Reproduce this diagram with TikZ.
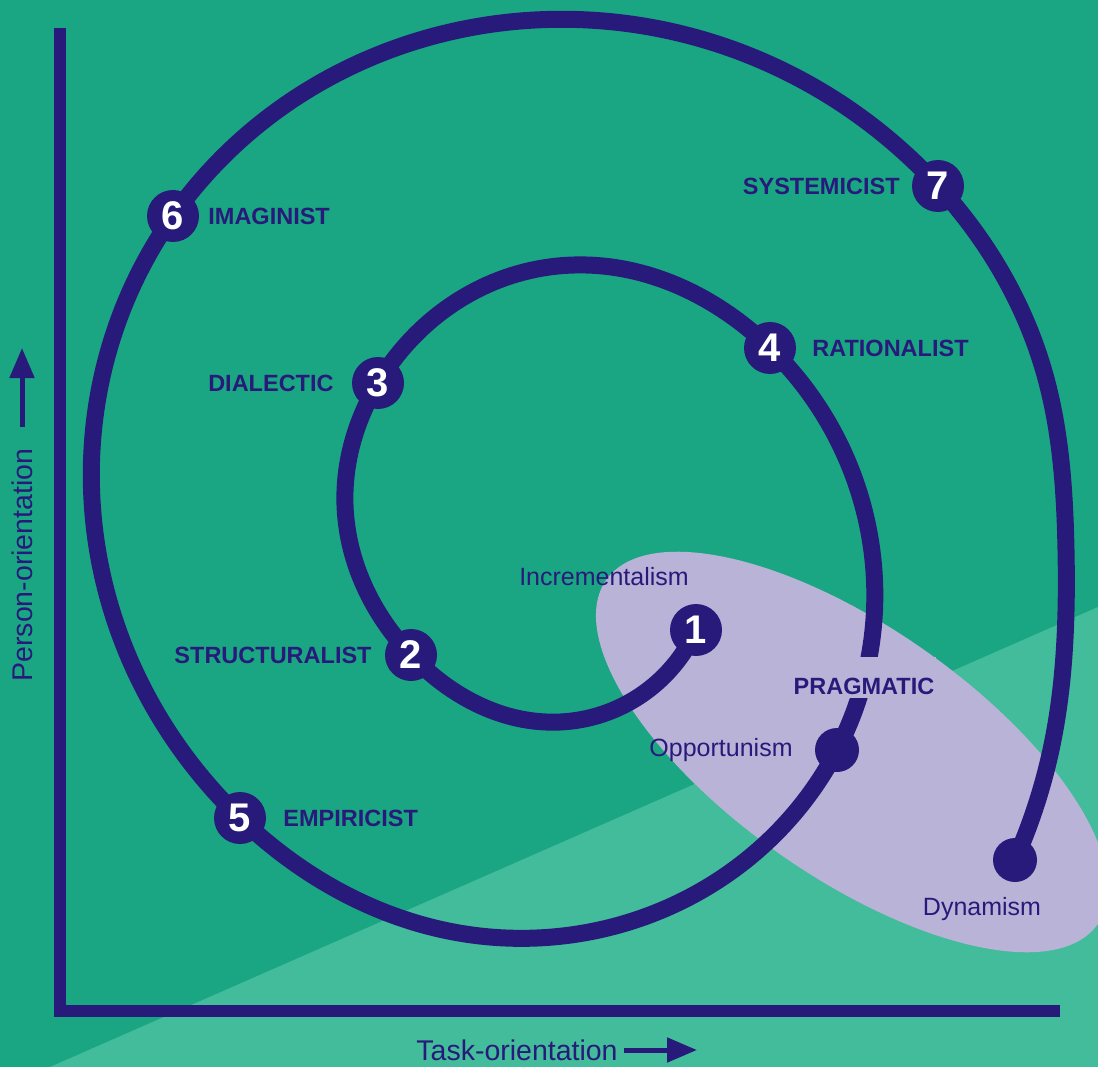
\documentclass[tikz,border=0pt]{standalone}
\usepackage{fontspec}
\setmainfont{Liberation Sans}
\usetikzlibrary{arrows.meta,positioning,hobby}
\definecolor{sea}{RGB}{26,166,131}
\definecolor{seapale}{RGB}{66,188,154}
\definecolor{indigo}{RGB}{40,26,122}
\definecolor{lilac}{RGB}{186,179,216}
\tikzset{
  stage/.style     = {circle, fill=indigo, text=white, inner sep=0pt,
                      minimum size=52pt, font=\bfseries\fontsize{40}{40}\selectfont},
  bigdot/.style    = {circle, fill=indigo, inner sep=0pt, minimum size=44pt},
  typelabel/.style = {text=indigo, inner sep=0pt,
                      font=\bfseries\fontsize{23.5}{24}\selectfont},
  remark/.style    = {text=indigo, inner sep=0pt, font=\fontsize{25}{26}\selectfont},
  axislabel/.style = {text=indigo, inner sep=0pt, font=\fontsize{28.5}{29}\selectfont},
  axisline/.style  = {draw=indigo, line width=12pt, line join=miter},
  spiral/.style    = {draw=indigo, line width=17pt},
  pointer/.style   = {-{Triangle[length=30pt,width=24pt]}, draw=indigo, line width=5pt},
}

\begin{document}
\begin{tikzpicture}[x=1pt, y=-1pt]
% backdrop
\fill[sea] (0,0) rectangle (1098,1067);
\fill[seapale] (50,1067) -- (1098,607) -- (1098,1067) -- cycle;
\useasboundingbox (0,0) rectangle (1098,1067);

% pragmatic zone
\fill[lilac, rotate around={-35:(852,752)}] (852,752) ellipse [x radius=300pt, y radius=125pt];

% axes
\coordinate (origin) at (60,1011);
\draw[axisline] (60,28) -- (origin) -- (1060,1011);

% stations on the spiral
\coordinate (p1) at (696,630);
\coordinate (p2) at (411,655);
\coordinate (p3) at (378,383);
\coordinate (p4) at (770,348);
\coordinate (pp) at (837,750);
\coordinate (p5) at (240,818);
\coordinate (p6) at (173,216);
\coordinate (p7) at (938,186);
\coordinate (pd) at (1015,860);

\draw[spiral, use Hobby shortcut] (p1) .. (560,722) .. (p2) .. (345,505) .. (p3)
  .. (558,266) .. (p4) .. (873,560) .. (pp) .. (490,937) .. (p5)
  .. (92,500) .. (p6) .. (535,20) .. (p7) .. (1045,375) .. (1066,550)
  .. (1052,745) .. (pd);

\node[stage] (s1) at (p1) {1};
\node[stage] (s2) at (p2) {2};
\node[stage] (s3) at (p3) {3};
\node[stage] (s4) at (p4) {4};
\node[stage] (s5) at (p5) {5};
\node[stage] (s6) at (p6) {6};
\node[stage] (s7) at (p7) {7};
\node[bigdot] (prag) at (pp) {};
\node[bigdot] (dyn) at (pd) {};

% style names
\node[typelabel, right=9pt of s6] (l6) {IMAGINIST};
\node[typelabel, left=18pt of s3] (l3) {DIALECTIC};
\node[typelabel, left=12pt of s7] (l7) {SYSTEMICIST};
\node[typelabel, right=16pt of s4] (l4) {RATIONALIST};
\node[typelabel, left=13pt of s2] (l2) {STRUCTURALIST};
\node[typelabel, right=17pt of s5] (l5) {EMPIRICIST};
\node[typelabel, fill=lilac, inner xsep=2pt, text height=38pt, text depth=3pt,
      above=30pt of prag, xshift=27pt] (lp) {PRAGMATIC};

\node[remark, above=18pt of s1, xshift=-92pt] (incr) {Incrementalism};
\node[remark, left=22pt of prag] (opp) {Opportunism};
\node[remark, below=15pt of dyn, xshift=-33pt] (dynl) {Dynamism};

% axis captions
\coordinate (ytip) at (22,348);
\node[axislabel, rotate=90] (ylab) at (22,565) {Person-orientation};
\draw[pointer] ([yshift=21pt]ylab.east) -- (ytip);
\coordinate (xtip) at (697,1050);
\node[axislabel] (xlab) at (517,1050) {Task-orientation};
\draw[pointer] ([xshift=6pt]xlab.east) -- (xtip);
\end{tikzpicture}
\end{document}
